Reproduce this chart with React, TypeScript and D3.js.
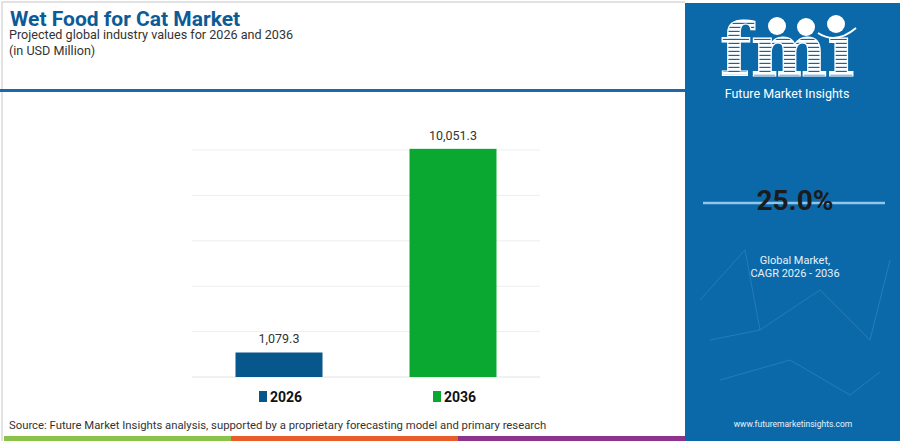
import * as d3 from "d3";

const WIDTH = 900;
const HEIGHT = 441;
const MARGIN = { top: 150, right: 360, bottom: 64, left: 192 };

const years = ["2026", "2036"];
const values = [1079.3, 10051.3];
const barColors = ["#07568c", "#0aa831"];
const gridTicks = [0, 2000, 4000, 6000, 8000, 10000];

const title = "Wet Food for Cat Market";
const subtitle = "Projected global industry values for 2026 and 2036";
const unit = "(in USD Million)";
const source = "Source: Future Market Insights analysis, supported by a proprietary forecasting model and primary research";
const cagr = "25.0%";
const cagrLabel = ["Global Market,", "CAGR 2026 - 2036"];
const stripeColors = ["#8bc34a", "#e85d2a", "#8c338c"];

const PANEL_X = 685;
const FONT = "Roboto, 'Open Sans', sans-serif";

// faint network lines in the blue panel
const netLines = [
  [700, 300, 745, 250], [745, 250, 760, 330], [760, 330, 820, 290],
  [820, 290, 870, 340], [870, 340, 890, 260], [720, 380, 790, 360],
  [790, 360, 850, 395], [850, 395, 880, 372], [710, 340, 760, 330],
];

export default function App() {
  const boundsHeight = HEIGHT - MARGIN.top - MARGIN.bottom;
  const xScale = d3
    .scaleBand()
    .domain(years)
    .range([MARGIN.left, WIDTH - MARGIN.right])
    .padding(0.5)
    .paddingOuter(0.25);
  const yScale = d3
    .scaleLinear()
    .domain([0, 10000])
    .range([MARGIN.top + boundsHeight, MARGIN.top]);

  const fmt = d3.format(",.1f");

  return (
    <svg
      width={WIDTH}
      height={HEIGHT}
      style={{ position: "absolute", left: 0, top: 0, display: "block" }}
      fontFamily={FONT}
    >
      <rect x={0} y={0} width={WIDTH} height={HEIGHT} fill="#ffffff" />
      {/* card border */}
      <path d={`M2,${HEIGHT} V2 H${PANEL_X}`} fill="none" stroke="#d9d9d9" strokeWidth={1.5} />

      {/* header */}
      <text x={10} y={26} fontSize={21} fontWeight={700} fill="#0d5b96">{title}</text>
      <text x={9} y={39} fontSize={12.6} fill="#333">{subtitle}</text>
      <text x={9} y={55} fontSize={12.6} fill="#333">{unit}</text>
      <rect x={0} y={89} width={PANEL_X} height={3} fill="#1b69a8" />

      {/* grid */}
      {gridTicks.map((t) => (
        <line
          key={t}
          x1={MARGIN.left}
          x2={WIDTH - MARGIN.right}
          y1={yScale(t)}
          y2={yScale(t)}
          stroke={t === 0 ? "#e2e2e2" : "#eeeeee"}
          strokeWidth={1}
        />
      ))}

      {/* bars */}
      {years.map((y, i) => (
        <g key={y}>
          <rect
            x={xScale(y)}
            y={yScale(values[i])}
            width={xScale.bandwidth()}
            height={yScale(0) - yScale(values[i])}
            fill={barColors[i]}
          />
          <text
            x={(xScale(y) ?? 0) + xScale.bandwidth() / 2}
            y={yScale(values[i]) - 9}
            textAnchor="middle"
            fontSize={12.5}
            fill="#333"
          >
            {fmt(values[i])}
          </text>
        </g>
      ))}

      {/* legend */}
      {years.map((y, i) => {
        const cx = (xScale(y) ?? 0) + xScale.bandwidth() / 2;
        return (
          <g key={y} transform={`translate(${cx - 20},397)`}>
            <rect x={0} y={-6} width={8} height={11} fill={barColors[i]} />
            <text x={11} y={5} fontSize={14} fontWeight={700} fill="#111">{y}</text>
          </g>
        );
      })}

      {/* source */}
      <text x={9} y={429} fontSize={11.3} fill="#333">{source}</text>

      {/* bottom stripes */}
      {stripeColors.map((c, i) => (
        <rect key={c} x={4 + (i * (PANEL_X - 4)) / 3} y={436} width={(PANEL_X - 4) / 3} height={5} fill={c} />
      ))}

      {/* right panel */}
      <rect x={PANEL_X} y={3} width={WIDTH - PANEL_X} height={HEIGHT - 3} fill="#0b69aa" />
      {netLines.map((l, i) => (
        <line key={i} x1={l[0]} y1={l[1]} x2={l[2]} y2={l[3]} stroke="#5a9dd0" strokeOpacity={0.35} strokeWidth={1} />
      ))}

      {/* logo */}
      <defs>
        <pattern id="stripes" width={4} height={4} patternUnits="userSpaceOnUse">
          <rect width={4} height={2.8} fill="#ffffff" />
        </pattern>
      </defs>
      <text x={720} y={76} fontSize={72} fontWeight={700} fontFamily="'DejaVu Serif', serif" fill="url(#stripes)" stroke="#ffffff" strokeWidth={1.2}>fmı</text>
      <circle cx={777} cy={26} r={9} fill="#ffffff" />
      <circle cx={806} cy={27} r={9} fill="#ffffff" />
      <circle cx={836} cy={24} r={9} fill="#ffffff" />
      <path d="M818,33 Q836,45 856,28" fill="none" stroke="#ffffff" strokeWidth={2} />
      <text x={787} y={98} textAnchor="middle" fontSize={12.5} fill="#ffffff">Future Market Insights</text>

      {/* CAGR */}
      <line x1={703} x2={885} y1={203} y2={203} stroke="#8fc6ec" strokeWidth={2.5} />
      <text x={795} y={210} textAnchor="middle" fontSize={28} fontWeight={700} fill="#1b1b1b">{cagr}</text>
      <text x={795} y={264} textAnchor="middle" fontSize={11} fill="#e6f1fa">{cagrLabel[0]}</text>
      <text x={795} y={277} textAnchor="middle" fontSize={11} fill="#e6f1fa">{cagrLabel[1]}</text>
      <text x={793} y={427} textAnchor="middle" fontSize={8.5} fill="#e6f1fa">www.futuremarketinsights.com</text>
    </svg>
  );
}
